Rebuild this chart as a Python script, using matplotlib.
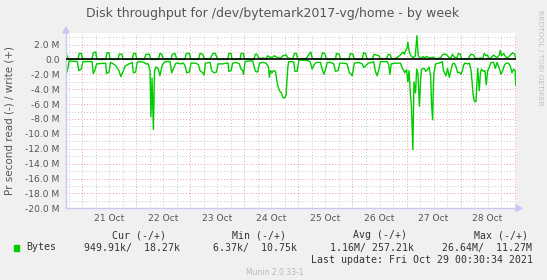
import matplotlib
matplotlib.use("Agg")
import math
import matplotlib.pyplot as plt
from matplotlib.patches import Polygon
from matplotlib.ticker import FixedLocator, FuncFormatter

# ---- data (hours since 21 Oct 00:00, MB/s) ----
write_points = [(-7.2, 0.8), (-6.0, 0), (-1.9, 0), (-1.3, 0.8), (-0.4, 0.8), (0.2, 0), (4.3, 0), (4.9, 0.9), (6.0, 1.0), (6.5, 0),
    (10.4, 0), (11.0, 0.9), (11.9, 0.9), (12.3, 0), (15.9, 0), (16.4, 0.7), (17.6, 0.7), (18.2, 0), (22.2, 0), (22.8, 0.8),
    (23.7, 0.8), (24.3, 0), (27.5, 0), (28.3, 0.7), (29.8, 0.7), (30.5, 0), (33.8, 0), (34.5, 0.8), (35.3, 0.7), (36.0, 0),
    (39.4, 0), (40.0, 0.7), (41.2, 0.8), (42.0, 0), (45.6, 0), (46.2, 0.8), (47.6, 0.8), (48.2, 0), (51.6, 0), (52.3, 0.8),
    (53.5, 0.7), (54.2, 0.1), (56.8, 0.1), (58.0, 0.8), (59.1, 0.8), (60.2, 0), (64.6, 0), (65.1, 0.8), (66.1, 0.8), (66.5, 0),
    (70.1, 0), (70.5, 0.8), (71.6, 0.8), (72.0, 0), (76.2, 0), (76.9, 0.7), (77.5, 0.7), (78.4, 0.2), (79.4, 0.1), (80.2, 0.2),
    (81.6, 0.1), (82.4, 0.5), (83.1, 0.3), (84.6, 0.3), (85.3, 0.5), (86.8, 0.2), (88.3, 0.2), (89.1, 0.5), (90.5, 0.6), (91.3, 0.2),
    (92.7, 0.1), (93.5, 0.1), (94.2, 0.8), (95.1, 0.8), (95.7, 0), (99.3, 0.1), (100.5, 0.6), (101.5, 1.0), (102.2, 0.1), (105.9, 0),
    (106.7, 0.9), (107.7, 0.8), (108.5, 0), (112.4, 0), (112.9, 0.8), (114.1, 0.7), (114.7, 0), (118.4, 0), (119.0, 0.8), (120.2, 0.7),
    (120.8, 0), (124.3, 0), (124.9, 0.9), (125.8, 0.8), (126.6, 0), (128.8, 0), (129.6, 0.7), (130.5, 0.6), (131.7, 0.5), (132.3, 0.1),
    (135.0, 0.1), (136.0, 0.7), (136.8, 0.6), (137.3, 0.1), (138.7, 0.1), (139.4, 0.2), (140.9, 0.5), (141.6, 0.7), (142.4, 1.0), (143.1, 0.7),
    (143.6, 1.2), (144.2, 1.5), (144.6, 2.3), (145.1, 1.2), (145.7, 0.6), (146.9, 0.2), (147.9, 0.5), (148.6, 3.2), (149.2, 0.5), (150.1, 0.1),
    (151.3, 0.4), (152.0, 0.2), (152.8, 0.4), (154.2, 0.2), (155.7, 0.3), (157.2, 0.1), (159.0, 0.2), (160.2, 0.7), (161.5, 0.7), (162.2, 0.5),
    (163.0, 0.2), (163.7, 0.2), (164.4, 0.7), (165.2, 0.3), (166.4, 0.2), (167.0, 0.8), (167.9, 0.7), (168.4, 0.1), (170.4, 0.1), (171.1, 0),
    (172.6, 0.7), (173.8, 0.6), (174.4, 0.2), (175.6, 0.1), (176.8, 0.2), (177.8, 0.1), (178.5, 0.8), (179.3, 0.5), (180.0, 0.6), (180.4, 0.1),
    (181.5, 0.2), (182.7, 0.6), (183.7, 0.3), (184.4, 0.3), (185.2, 0.6), (185.6, 1.2), (186.2, 0.5), (187.1, 0.8), (188.2, 0.3), (188.9, 0.2),
    (189.8, 0.5), (191.1, 0.9), (192.0, 0.7), (192.5, 0.1)]

read_points = [(-7.2, 1.8), (-6.9, 1.8), (-6.4, 1.2), (-5.8, 0.2), (-2.2, 0.3), (-1.5, 1.5), (-0.4, 1.3), (0.3, 0.3), (4.4, 0.3), (4.9, 1.9),
    (5.6, 1.5), (6.4, 0.6), (10.4, 0.5), (10.8, 1.9), (11.9, 1.7), (12.6, 0.4), (13.8, 0.6), (14.8, 0.8), (16.3, 1.5), (17.1, 2.3),
    (18.2, 1.6), (19.0, 0.9), (20.8, 0.6), (22.2, 0.4), (22.7, 1.8), (23.7, 1.7), (24.4, 0.4), (25.6, 0.3), (27.4, 0.4), (28.3, 0.6),
    (29.3, 0.6), (30.1, 1.5), (30.5, 7.7), (31.0, 2.5), (31.6, 9.4), (32.1, 1.5), (32.8, 1.0), (33.8, 1.3), (34.5, 2.2), (35.0, 1.5),
    (35.6, 0.7), (36.8, 0.3), (39.0, 0.3), (39.7, 1.8), (40.4, 1.3), (41.6, 0.5), (42.7, 0.5), (43.4, 0.6), (44.9, 0.5), (45.6, 0.8),
    (46.4, 1.8), (47.6, 1.7), (48.3, 0.5), (50.5, 0.5), (51.6, 0.7), (52.3, 1.5), (53.5, 1.8), (54.1, 2.1), (54.7, 0.5), (56.8, 0.4),
    (57.5, 1.5), (58.5, 1.8), (59.6, 1.7), (60.3, 0.6), (62.4, 0.6), (63.9, 0.5), (64.8, 0.5), (65.1, 1.6), (66.1, 1.5), (66.8, 0.5),
    (68.3, 0.4), (69.8, 0.6), (70.5, 1.3), (71.3, 1.5), (71.6, 2.0), (72.3, 0.3), (74.2, 0.2), (75.7, 0.2), (76.9, 1.6), (77.9, 1.7),
    (78.7, 0.5), (80.2, 0.4), (81.6, 0.5), (82.7, 1.0), (83.1, 2.4), (83.6, 1.5), (84.3, 1.8), (84.9, 1.5), (85.8, 1.6), (86.4, 2.8),
    (86.8, 3.5), (87.6, 4.2), (88.4, 4.5), (89.1, 5.1), (89.8, 5.2), (90.5, 4.8), (91.3, 1.0), (91.7, 0.3), (93.5, 0.3), (94.0, 0.4),
    (94.4, 1.6), (95.4, 1.6), (96.2, 0.1), (99.1, 0.1), (100.6, 0.2), (101.3, 0.4), (102.1, 1.3), (102.8, 0.8), (103.9, 0.4), (105.8, 0.4),
    (106.5, 1.3), (107.3, 2.0), (108.0, 1.4), (108.8, 0.4), (110.2, 0.4), (111.7, 0.6), (112.4, 1.6), (113.6, 1.5), (114.4, 0.5), (116.2, 0.5),
    (117.6, 0.6), (118.6, 1.8), (119.5, 2.0), (119.9, 2.2), (120.8, 0.5), (122.8, 0.4), (124.3, 0.6), (125.0, 1.1), (126.1, 0.8), (127.0, 0.5),
    (128.6, 0.4), (129.4, 0.3), (130.1, 1.5), (130.9, 2.2), (131.6, 1.5), (132.4, 0.3), (135.4, 0.3), (136.1, 0.7), (136.6, 2.0), (137.2, 0.6),
    (139.1, 0.5), (141.3, 0.5), (142.1, 1.2), (142.8, 1.5), (143.1, 1.8), (144.0, 1.4), (144.6, 3.0), (145.1, 1.5), (145.8, 5.0), (146.2, 6.5),
    (146.8, 12.1), (147.3, 3.0), (148.0, 4.5), (148.5, 1.3), (149.1, 2.0), (149.7, 6.3), (150.3, 2.5), (150.7, 1.3), (151.8, 1.2), (152.5, 1.6),
    (153.2, 1.4), (154.0, 1.0), (154.7, 2.2), (155.1, 6.0), (155.6, 8.1), (155.9, 3.5), (156.2, 1.8), (156.9, 0.6), (158.4, 0.5), (159.9, 0.3),
    (160.4, 1.5), (161.5, 2.2), (162.2, 1.2), (163.0, 2.4), (163.7, 1.5), (164.4, 0.6), (165.2, 0.5), (166.0, 1.0), (166.7, 1.8), (167.4, 1.7),
    (168.2, 2.0), (168.9, 1.4), (169.3, 0.8), (169.9, 0.5), (171.1, 0.6), (171.9, 0.5), (172.6, 1.4), (173.1, 3.0), (173.5, 4.6), (174.1, 5.6),
    (174.8, 5.7), (175.6, 1.2), (176.3, 4.2), (176.8, 1.8), (177.3, 1.3), (178.2, 1.6), (178.8, 1.5), (179.4, 3.4), (180.0, 1.5), (180.8, 1.0),
    (181.5, 0.4), (182.7, 0.4), (183.4, 1.2), (184.2, 0.4), (185.2, 1.2), (185.9, 2.0), (186.7, 1.5), (187.4, 0.8), (188.2, 0.5), (189.2, 0.5),
    (190.1, 0.9), (190.8, 1.8), (191.5, 1.3), (192.2, 1.5), (192.5, 3.5)]

day_labels = ["21 Oct", "22 Oct", "23 Oct", "24 Oct", "25 Oct", "26 Oct", "27 Oct", "28 Oct"]
y_ticks = [2, 0, -2, -4, -6, -8, -10, -12, -14, -16, -18, -20]

title = "Disk throughput for /dev/bytemark2017-vg/home - by week"
ylabel = "Pr second read (-) / write (+)"
legend_headers = ["Cur (-/+)", "Min (-/+)", "Avg (-/+)", "Max (-/+)"]
legend_values = ["949.91k/  18.27k", "6.37k/  10.75k", "1.16M/ 257.21k", "26.64M/  11.27M"]
series_name = "Bytes"
last_update = "Last update: Fri Oct 29 00:30:34 2021"
munin_version = "Munin 2.0.33-1"
rrd_credit = "RRDTOOL / TOBI OETIKER"

# ---- layout ----
W, H = 547, 280
BG = "#F0F0F0"
GREEN = "#00CC00"
TXT = "#555555"

fig = plt.figure(figsize=(W / 100, H / 100), dpi=100, facecolor=BG)

def fx(x):
    return x / W

def fy(y):
    return 1 - y / H

L, R, T, B = 66, 516, 33, 208.3
ax = fig.add_axes([fx(L), fy(B), fx(R) - fx(L), fy(T) - fy(B)])
ax.set_facecolor("white")

wx = [p[0] for p in write_points]
wy = [p[1] for p in write_points]
rx = [p[0] for p in read_points]
ry = [-p[1] for p in read_points]

x0, x1 = -7.2, 192.6
ax.set_xlim(x0, x1)
ax.set_ylim(-20, 3.55)

# grid
dash = (0, (1, 2))
for k in range(math.ceil(x0 / 6), int(x1 // 6) + 1):
    t = k * 6
    if t % 24 == 0:
        ax.axvline(t, color="#F0A0A0", lw=0.7, ls=dash, zorder=1)
    else:
        ax.axvline(t, color="#C8C8C8", lw=0.7, ls=dash, zorder=0.9)
for v in range(-20, 4):
    if v % 2 == 0:
        ax.axhline(v, color="#F0A0A0", lw=0.7, ls=dash, zorder=1)
    else:
        ax.axhline(v, color="#C8C8C8", lw=0.7, ls=dash, zorder=0.9)

ax.plot(wx, wy, color=GREEN, lw=1.0, zorder=2)
ax.plot(rx, ry, color=GREEN, lw=1.0, zorder=2)
ax.axhline(0, color="black", lw=1.2, zorder=3)

ax.yaxis.set_major_locator(FixedLocator(y_ticks))
ax.yaxis.set_major_formatter(FuncFormatter(lambda v, p: "0.0" if v == 0 else f"{v:.1f} M"))
ax.xaxis.set_major_locator(FixedLocator([12 + 24 * i for i in range(len(day_labels))]))
ax.set_xticklabels(day_labels)
ax.tick_params(axis="both", length=0, labelsize=6.6, colors=TXT)
ax.tick_params(axis="y", pad=4.6)
ax.tick_params(axis="x", pad=4.0)

for s in ["top", "right"]:
    ax.spines[s].set_visible(False)
for s in ["left", "bottom"]:
    ax.spines[s].set_color("#C8C8F0")
    ax.spines[s].set_linewidth(1.0)

ax.set_ylabel(ylabel, fontsize=7.5, color=TXT)
ax.yaxis.set_label_coords(-(L - 15) / (R - L), 0.5)

def px(x, y):
    return (fx(x), fy(y))

fig.patches.append(Polygon([px(63, 33), px(69, 33), px(66, 27)], closed=True,
                           transform=fig.transFigure, color="#C8C8F0", zorder=5))
fig.patches.append(Polygon([px(516, 205), px(516, 211.6), px(522, 208.3)], closed=True,
                           transform=fig.transFigure, color="#C8C8F0", zorder=5))

fig.text(fx(273), fy(13), title, fontsize=9.0, color=TXT, ha="center", va="center")
fig.text(fx(540), fy(10), rrd_credit, fontsize=5.4, color="#C0C0C0", rotation=-90,
         ha="center", va="top")

mono = "DejaVu Sans Mono"
LT = "#333333"
hdr_x = [111.6, 232, 353, 474]
val_x = [83.7, 213, 330, 442]
for hx, s in zip(hdr_x, legend_headers):
    fig.text(fx(hx), fy(235), s, family=mono, fontsize=7.1, color=LT, ha="left", va="center")
for vx, s in zip(val_x, legend_values):
    fig.text(fx(vx), fy(247.5), s, family=mono, fontsize=7.1, color=LT, ha="left", va="center")
fig.patches.append(Polygon([px(14, 245), px(19.5, 245), px(19.5, 250.5), px(14, 250.5)], closed=True,
                           transform=fig.transFigure, color=GREEN, zorder=5))
fig.text(fx(26.5), fy(247.5), series_name, family=mono, fontsize=7.1, color=LT, ha="left", va="center")
fig.text(fx(533), fy(260), last_update, family=mono, fontsize=7.1, color=LT, ha="right", va="center")
fig.text(fx(275), fy(272.6), munin_version, fontsize=5.5, color="#B8B8B8", ha="center", va="center")

fig.savefig("out.png", dpi=100, facecolor=BG)
